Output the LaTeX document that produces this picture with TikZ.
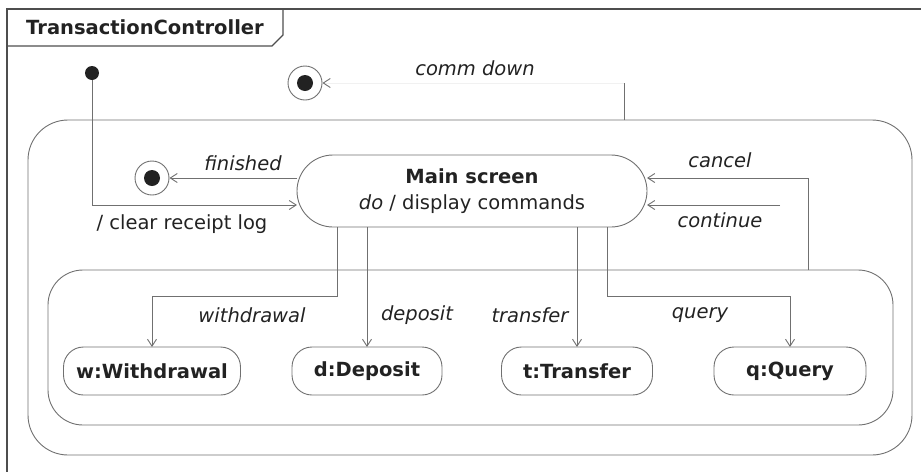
\documentclass[tikz,border=0pt]{standalone}
\usepackage{fontspec}
\setmainfont{DejaVu Sans}
\usetikzlibrary{arrows.meta,positioning}
\definecolor{ink}{HTML}{222222}
\definecolor{wire}{HTML}{707070}

\begin{document}
\begin{tikzpicture}[
  x=1pt,y=-1pt,
  font=\fontsize{19.5}{26}\selectfont,
  frame/.style={draw=ink!80,line width=1.6pt},
  region/.style={draw=wire,line width=0.9pt,inner sep=0pt,outer sep=0pt},
  statebox/.style={draw=wire,line width=0.9pt,inner sep=0pt,outer sep=0pt,align=center,text=ink,font=\fontsize{19.5}{26}\selectfont\bfseries},
  initstate/.style={circle,fill=ink,minimum size=14pt,inner sep=0pt},
  finalstate/.style={circle,draw=wire,line width=0.9pt,minimum size=34pt,inner sep=0pt,
    path picture={\fill[ink] (path picture bounding box.center) circle (8pt);}},
  lbl/.style={text=ink,font=\fontsize{19.5}{26}\selectfont\itshape},
  arr/.style={draw=wire,line width=0.9pt,-{Straight Barb[length=7pt,width=9pt]}}
]
\useasboundingbox (0,0) rectangle (921,472);
% frame and its tab
\draw[frame] (921,9) -- (7,9) -- (7,472);
\draw[frame,line width=1.2pt] (7,46) -- (272,46) -- (283,35) -- (283,9);
\node[text=ink,font=\fontsize{19.5}{26}\selectfont\bfseries] (title) at (145,27) {TransactionController};
% regions
\node[region,rounded corners=40pt,minimum width=884pt,minimum height=335pt] (outer) at (470,287.5) {};
\node[region,rounded corners=35pt,minimum width=845pt,minimum height=155pt] (inner) at (470.5,347.5) {};
% states
\node[initstate] (init) at (92,73) {};
\node[finalstate] (fintop) at (305,83) {};
\node[finalstate] (finin) at (152,178) {};
\node[statebox,rounded corners=36pt,minimum width=350pt,minimum height=72pt] (main) at (472,191)
  {Main screen\\\mdseries\textit{do} / display commands};
\node[statebox,rounded corners=20pt,minimum width=177pt,minimum height=48pt] (wd) at (152,371) {w:Withdrawal};
\node[statebox,rounded corners=20pt,minimum width=150pt,minimum height=48pt] (dep) at (367,371) {d:Deposit};
\node[statebox,rounded corners=20pt,minimum width=151pt,minimum height=48pt] (trf) at (577,371) {t:Transfer};
\node[statebox,rounded corners=20pt,minimum width=152pt,minimum height=48pt] (qry) at (790,371) {q:Query};
\coordinate (cdturn) at (624,83);
\coordinate (contsrc) at (780,205);
% transitions
\draw[arr] (init) |- ([yshift=-14pt]main.west);
\draw[arr] ([yshift=13pt]main.west) -- (finin);
\draw[region] (outer.north -| cdturn) -- (cdturn);
\draw[arr,draw=wire!10,-{Straight Barb[length=7pt,width=9pt,color=wire]}] (cdturn) -- (fintop);
\draw[arr] ([xshift=338pt]inner.north) |- ([yshift=13pt]main.east);
\draw[arr] (contsrc) -- ([yshift=-14pt]main.east);
\draw[arr] ([xshift=-135pt]main.south) -- ++(0,69) -| (wd.north);
\draw[arr] (main.south -| dep.north) -- (dep.north);
\draw[arr] (main.south -| trf.north) -- (trf.north);
\draw[arr] ([xshift=135pt]main.south) -- ++(0,69) -| (qry.north);
% labels
\node[lbl] (lcomm) at (475,68) {comm down};
\node[lbl] (lfin) at (243,163) {finished};
\node[text=ink] (lclear) at (182,224) {/ clear receipt log};
\node[lbl] (lcancel) at (720,160) {cancel};
\node[lbl] (lcont) at (720,220) {continue};
\node[lbl] (lwd) at (252,315) {withdrawal};
\node[lbl] (ldep) at (417,315) {deposit};
\node[lbl] (ltrf) at (530,315) {transfer};
\node[lbl] (lqry) at (700,315) {query};
\end{tikzpicture}
\end{document}
